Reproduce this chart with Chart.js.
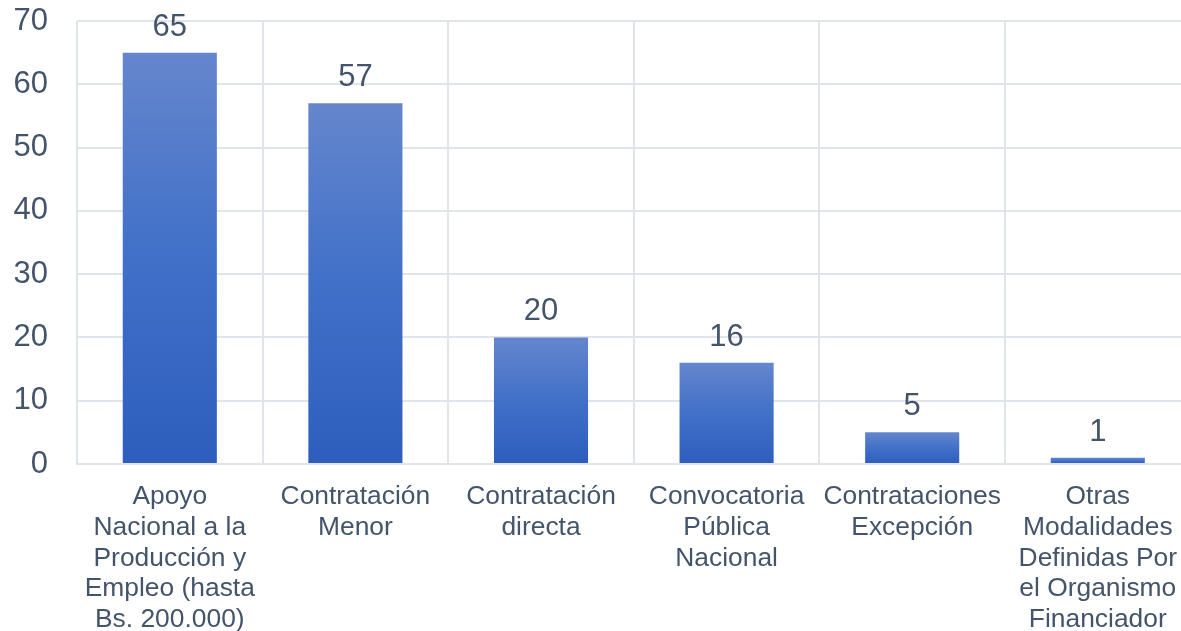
<!DOCTYPE html>
<html>
<head>
<meta charset="utf-8">
<script src="https://cdn.jsdelivr.net/npm/chart.js@4/dist/chart.umd.min.js"></script>
<style>
  html, body { margin: 0; padding: 0; background: #fff; overflow: hidden; }
  #wrap { position: relative; width: 1194px; height: 631px; }
</style>
</head>
<body>
<div id="wrap"><canvas id="chart"></canvas></div>
<script>
// Categories (multi-line labels as shown under each bar)
const categories = [
  ['Apoyo', 'Nacional a la', 'Producción y', 'Empleo (hasta', 'Bs. 200.000)'],
  ['Contratación', 'Menor'],
  ['Contratación', 'directa'],
  ['Convocatoria', 'Pública', 'Nacional'],
  ['Contrataciones', 'Excepción'],
  ['Otras', 'Modalidades', 'Definidas Por', 'el Organismo', 'Financiador']
];
const counts = [65, 57, 20, 16, 5, 1];
const yTicks = [0, 10, 20, 30, 40, 50, 60, 70];

const TEXT = '#44546A';
const GRID = 'rgb(224, 228, 235)';
const FONT = '"Liberation Sans", Arial, sans-serif';

// Vertical gradient per bar, lighter at the top
function barGradient(context) {
  const chart = context.chart;
  const yScale = chart.scales.y;
  const fallback = 'rgb(68, 114, 196)';
  if (!yScale || context.type !== 'data') return fallback;
  const top = yScale.getPixelForValue(context.raw);
  const base = yScale.getPixelForValue(0);
  if (!isFinite(top) || !isFinite(base) || top === base) return fallback;
  const g = chart.ctx.createLinearGradient(0, top, 0, base);
  g.addColorStop(0, 'rgb(101, 134, 205)');
  g.addColorStop(0.5, 'rgb(64, 112, 200)');
  g.addColorStop(1, 'rgb(46, 94, 189)');
  return g;
}

// Value labels above each bar
const valueLabels = {
  id: 'valueLabels',
  afterDatasetsDraw(chart) {
    const ctx = chart.ctx;
    const meta = chart.getDatasetMeta(0);
    ctx.save();
    ctx.fillStyle = TEXT;
    ctx.font = '31px ' + FONT;
    ctx.textAlign = 'center';
    ctx.textBaseline = 'alphabetic';
    meta.data.forEach((bar, i) => {
      ctx.fillText(String(counts[i]), bar.x, bar.y - 17);
    });
    ctx.restore();
  }
};

new Chart(document.getElementById('chart'), {
  type: 'bar',
  data: {
    labels: categories,
    datasets: [{
      data: counts,
      backgroundColor: barGradient,
      borderWidth: 0,
      barPercentage: 0.507,
      categoryPercentage: 1
    }]
  },
  options: {
    responsive: true,
    maintainAspectRatio: false,
    animation: false,
    layout: { padding: 0 },
    plugins: {
      legend: { display: false },
      tooltip: { enabled: false }
    },
    scales: {
      x: {
        grid: {
          color: GRID,
          lineWidth: 2,
          drawTicks: false,
          offset: true
        },
        border: { color: GRID, width: 2 },
        ticks: {
          color: TEXT,
          font: { family: FONT, size: 26.4, lineHeight: 1.17 },
          padding: 17,
          maxRotation: 0,
          autoSkip: false
        },
        afterFit(scale) { scale.height = 167; }
      },
      y: {
        min: 0,
        max: 70,
        afterBuildTicks(scale) { scale.ticks = yTicks.map(v => ({ value: v })); },
        grid: { color: GRID, lineWidth: 2, drawTicks: false },
        border: { display: false },
        ticks: {
          color: TEXT,
          font: { family: FONT, size: 31 },
          padding: 29
        },
        afterFit(scale) {
          scale.width = 77;
          scale.paddingTop = 21;
          scale.paddingBottom = 18;
        }
      }
    }
  },
  plugins: [valueLabels]
});
</script>
</body>
</html>
